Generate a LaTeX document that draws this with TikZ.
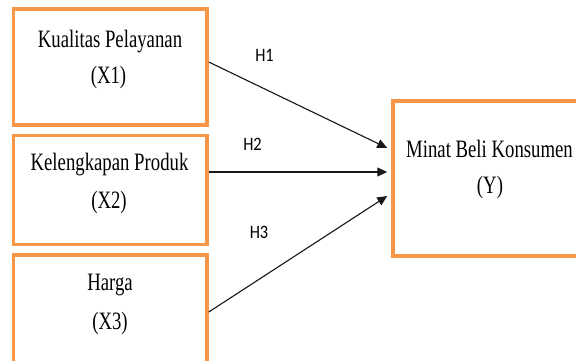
\documentclass[tikz,border=0pt]{standalone}
\usepackage{fontspec}
\setmainfont[FakeStretch=0.75]{Liberation Serif}
\newfontfamily\hfont[FakeStretch=0.86]{Carlito}
\usetikzlibrary{arrows.meta}
\definecolor{boxorange}{HTML}{F79646}
\begin{document}
\begin{tikzpicture}[x=1pt,y=1pt,
  vbox/.style={draw=boxorange, line width=3.5pt, rectangle, inner sep=0pt, fill=white},
  tline/.style={font=\fontsize{25}{30}\selectfont, anchor=base, inner sep=0pt},
  hlab/.style={font=\hfont\fontsize{19}{22}\selectfont, inner sep=0pt},
  arr/.style={-{Triangle[length=10pt,width=9pt]}, line width=1.1pt, draw=black!90, fill=black}]
\useasboundingbox (0,0) rectangle (576,360);
\clip (0,0) rectangle (576,360);
\node[vbox, minimum width=193.5pt, minimum height=116pt] (b1) at (110.25,293) {};
\node[vbox, minimum width=193.5pt, minimum height=109pt] (b2) at (110.25,170) {};
\node[vbox, minimum width=193.5pt, minimum height=125pt] (b3) at (110.25,42.5) {};
\node[vbox, minimum width=207pt, minimum height=155pt] (y) at (496.5,181.5) {};
\node[tline] (t1a) at (110,313) {Kualitas Pelayanan};
\node[tline] (t1b) at (108.5,277) {(X1)};
\node[tline] (t2a) at (109.5,190) {Kelengkapan Produk};
\node[tline] (t2b) at (109,152) {(X2)};
\node[tline] (t3a) at (110,70) {Harga};
\node[tline] (t3b) at (110,31) {(X3)};
\node[tline] (tya) at (489.5,203) {Minat Beli Konsumen};
\node[tline] (tyb) at (490,167) {(Y)};
\node[hlab] (h1) at (264.5,305) {H1};
\node[hlab] (h2) at (252.5,216) {H2};
\node[hlab] (h3) at (259,128) {H3};
\draw[arr] ([yshift=5pt]b1.east) -- ([xshift=-4pt,yshift=30.5pt]y.west);
\draw[arr] ([yshift=18pt]b2.east) -- ([xshift=-4pt,yshift=6.5pt]y.west);
\draw[arr] ([yshift=5.5pt]b3.east) -- ([xshift=-4pt,yshift=-17.5pt]y.west);
\end{tikzpicture}
\end{document}
